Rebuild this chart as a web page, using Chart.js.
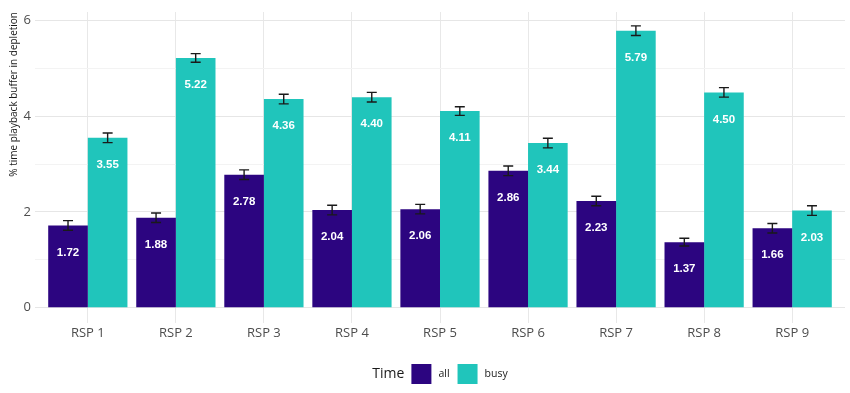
<!DOCTYPE html>
<html>
<head>
<meta charset="utf-8">
<script src="https://cdn.jsdelivr.net/npm/chart.js@4"></script>
<style>
  body { margin: 0; background: #fff; }
</style>
</head>
<body>
<canvas id="grafico" width="850" height="393"></canvas>
<script>
// Datos
let categorias = ["RSP 1", "RSP 2", "RSP 3", "RSP 4", "RSP 5", "RSP 6", "RSP 7", "RSP 8", "RSP 9"];
let valoresAll = [1.72, 1.88, 2.78, 2.04, 2.06, 2.86, 2.23, 1.37, 1.66];
let valoresBusy = [3.55, 5.22, 4.36, 4.40, 4.11, 3.44, 5.79, 4.50, 2.03];
let errorAll = [0.10, 0.10, 0.10, 0.10, 0.10, 0.10, 0.10, 0.08, 0.10];
let errorBusy = [0.10, 0.09, 0.10, 0.10, 0.09, 0.10, 0.10, 0.10, 0.10];
let ticksY = [0, 1, 2, 3, 4, 5, 6];
let tituloLeyenda = "Time";

let colores = ["#2c0580", "#20c5bb"];

// Barras de error y etiquetas de valor
const pluginErrores = {
    id: "errores",
    afterDatasetsDraw(chart) {
        let ctx = chart.ctx;
        let y = chart.scales.y;
        chart.data.datasets.forEach((ds, i) => {
            let meta = chart.getDatasetMeta(i);
            meta.data.forEach((bar, j) => {
                let v = ds.data[j];
                let e = ds.errores[j];
                let yTop = y.getPixelForValue(v + e);
                let yBot = y.getPixelForValue(v - e);
                ctx.save();
                ctx.strokeStyle = "#1a1a1a";
                ctx.lineWidth = 1.4;
                ctx.beginPath();
                ctx.moveTo(bar.x, yTop); ctx.lineTo(bar.x, yBot);
                ctx.moveTo(bar.x - 5, yTop); ctx.lineTo(bar.x + 5, yTop);
                ctx.moveTo(bar.x - 5, yBot); ctx.lineTo(bar.x + 5, yBot);
                ctx.stroke();
                ctx.fillStyle = "#ffffff";
                ctx.font = "bold 11.5px 'Liberation Sans', Arial, sans-serif";
                ctx.textAlign = "center";
                ctx.textBaseline = "middle";
                ctx.fillText(v.toFixed(2), bar.x, bar.y + 27);
                ctx.restore();
            });
        });
    }
};

// Leyenda al estilo ggplot: título a la izquierda, cajas en línea
const pluginLeyenda = {
    id: "leyendaTime",
    afterDraw(chart) {
        let ctx = chart.ctx;
        let area = chart.chartArea;
        let cy = 374;
        let caja = 20;
        ctx.save();
        ctx.textBaseline = "middle";
        ctx.font = "14px 'Open Sans', sans-serif";
        let wTitulo = ctx.measureText(tituloLeyenda).width;
        ctx.font = "10.5px 'Open Sans', sans-serif";
        let anchos = chart.data.datasets.map(ds => ctx.measureText(ds.label).width);
        let total = wTitulo + 7;
        anchos.forEach(w => { total += caja + 7 + w + 8; });
        total -= 8;
        let x = (area.left + area.right) / 2 - total / 2;
        ctx.fillStyle = "#1a1a1a";
        ctx.font = "14px 'Open Sans', sans-serif";
        ctx.fillText(tituloLeyenda, x, cy);
        x += wTitulo + 7;
        ctx.font = "10.5px 'Open Sans', sans-serif";
        chart.data.datasets.forEach((ds, i) => {
            ctx.fillStyle = ds.backgroundColor;
            ctx.fillRect(x, cy - caja / 2, caja, caja);
            x += caja + 7;
            ctx.fillStyle = "#1a1a1a";
            ctx.fillText(ds.label, x, cy);
            x += anchos[i] + 8;
        });
        ctx.restore();
    }
};

let ctx = document.getElementById("grafico").getContext("2d");
new Chart(ctx, {
    type: "bar",
    data: {
        labels: categorias,
        datasets: [
            { label: "all", data: valoresAll, errores: errorAll, backgroundColor: colores[0], borderWidth: 0 },
            { label: "busy", data: valoresBusy, errores: errorBusy, backgroundColor: colores[1], borderWidth: 0 }
        ]
    },
    options: {
        responsive: false,
        animation: false,
        categoryPercentage: 0.9,
        barPercentage: 1.0,
        layout: { padding: { top: 12, right: 5, bottom: 50, left: 0 } },
        plugins: {
            legend: { display: false },
            tooltip: { enabled: false }
        },
        scales: {
            x: {
                offset: true,
                // expansión de 0.6 unidades a cada lado, como ggplot
                afterBuildTicks: s => { s._startValue = -0.6; s._valueRange = categorias.length - 1 + 1.2; },
                afterFit: s => { s.height = 20; },
                grid: { offset: false, color: "#e8e8e8", drawTicks: false },
                border: { display: false },
                ticks: { color: "#4d4d4d", padding: 2, font: { family: "'Open Sans', sans-serif", size: 13 } }
            },
            y: {
                min: -0.32,
                max: 6.18,
                afterBuildTicks: s => { s.ticks = ticksY.map(v => ({ value: v })); },
                afterFit: s => { s.width = 35; },
                grid: {
                    drawTicks: false,
                    color: c => (c.tick && c.tick.value % 2 === 0) ? "#e6e6e6" : "#f3f3f3"
                },
                border: { display: false },
                ticks: {
                    color: "#4d4d4d",
                    padding: 4,
                    font: { family: "'Open Sans', sans-serif", size: 13 },
                    callback: v => (v % 2 === 0 ? v : "")
                },
                title: {
                    display: true,
                    text: "% time playback buffer in depletion",
                    align: "end",
                    color: "#1a1a1a",
                    padding: { top: 8, bottom: 0 },
                    font: { family: "'Open Sans', sans-serif", size: 10 }
                }
            }
        }
    },
    plugins: [pluginErrores, pluginLeyenda]
});
</script>
</body>
</html>
